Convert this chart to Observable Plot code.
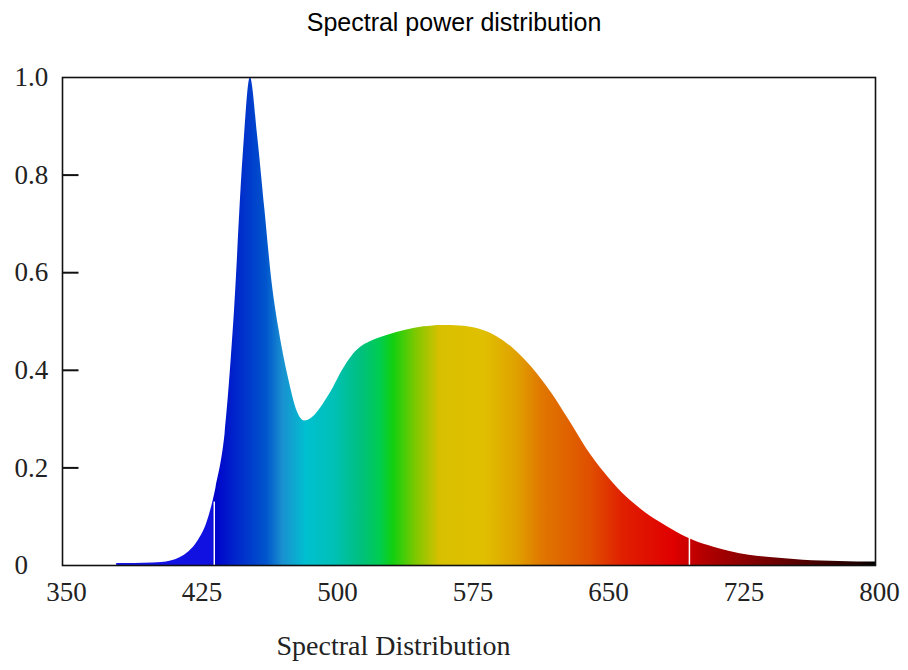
<!DOCTYPE html>
<html><head><meta charset="utf-8">
<script src="https://cdn.jsdelivr.net/npm/d3@7"></script>
<script src="https://cdn.jsdelivr.net/npm/@observablehq/plot@0.6"></script>
<style>
body{margin:0;background:#fff;}
#title{width:908px;height:44px;box-sizing:border-box;padding-top:7px;font:25px/30px "Liberation Sans",Arial,sans-serif;text-align:center;color:#000;}
#chart svg{display:block;}
</style></head><body>
<div id="title"></div>
<div id="chart"></div>
<script>
const titleText = "Spectral power distribution";
const xLabel = "Spectral Distribution";

const wavelengths = [380,390,400,405,410,415,420,425,430,435,440,445,450,454,458,462,466,470,475,480,484,488,492,496,500,505,510,515,520,530,540,550,560,570,580,590,600,610,620,630,640,650,660,670,680,690,700,710,720,730,740,750,760,770,780,790,800];
const power = [0.004,0.004,0.005,0.006,0.009,0.016,0.028,0.05,0.088,0.16,0.27,0.51,0.84,1.0,0.88,0.73,0.58,0.48,0.385,0.315,0.296,0.302,0.318,0.34,0.365,0.40,0.428,0.447,0.458,0.472,0.482,0.489,0.492,0.491,0.485,0.47,0.443,0.405,0.357,0.30,0.24,0.19,0.148,0.116,0.09,0.068,0.05,0.038,0.028,0.021,0.017,0.014,0.011,0.009,0.008,0.007,0.007];

const xDomain = [350, 800];
const xTicks = [350,425,500,575,650,725,800];
const yTicks = [0,0.2,0.4,0.6,0.8,1.0];
const yInnerTicks = [0.2,0.4,0.6,0.8];

const stopWavelengths = [380,433,434,445,463,472,485,500,515,526,533,546,559,583,602,615,642,660,688,707,725,762,790,800];
const stopColors = ["#1515e6","#1010e0","#0000cc","#0022cc","#0055cc","#1a90d0","#00c0d0","#00c0b8","#00c080","#00cc50","#10d010","#80c800","#d8c000","#e0c000","#e0a000","#e07800","#e05000","#e02000","#e00000","#b00000","#900000","#500000","#200000","#000000"];

const gapWavelengths = [434, 697];
const gapHeights = [0.13, 0.056];

document.getElementById("title").textContent = titleText;

const data = wavelengths.map((w, i) => ({w, p: power[i]}));
const gaps = gapWavelengths.map((w, i) => ({w, h: gapHeights[i]}));
const stops = stopWavelengths.map((w, i) => ({w, c: stopColors[i]}));
const innerTicks = yInnerTicks.map(v => ({v}));

const frameWidth = 908 - 62 - 33;
const innerTickLength = 16; // pixels
const tickSpan = innerTickLength * (xDomain[1] - xDomain[0]) / frameWidth;

const chart = Plot.plot({
  width: 908,
  height: 626,
  marginTop: 33,
  marginBottom: 105,
  marginLeft: 62,
  marginRight: 33,
  style: {fontFamily: '"Liberation Serif","Times New Roman",serif', fontSize: "27px", color: "#222", background: "#fff", overflow: "visible"},
  x: {domain: xDomain},
  y: {domain: [0, 1]},
  marks: [
    Plot.areaY(data, {x: "w", y: "p", fill: "url(#spectrum)", curve: "monotone-x"}),
    Plot.ruleX(gaps, {x: "w", y1: 0, y2: "h", stroke: "white", strokeWidth: 1.5}),
    Plot.frame({stroke: "#111", strokeWidth: 1.6}),
    Plot.link(innerTicks, {x1: () => xDomain[0], x2: () => xDomain[0] + tickSpan, y1: "v", y2: "v", stroke: "#111", strokeWidth: 2}),
    Plot.axisY(yTicks, {tickSize: 0, tickPadding: 0, textAnchor: "start", dx: -48, fontSize: 27, fill: "#222",
      tickFormat: d => d === 0 ? "0" : d.toFixed(1), label: null}),
    Plot.axisX(xTicks, {tickSize: 0, tickPadding: 16, dx: 4, fontSize: 27, fill: "#222", tickFormat: d => String(d), label: null}),
    Plot.text([xLabel], {text: d => d, frameAnchor: "bottom", dx: -75.5, dy: 89, fontSize: 28, fill: "#222"})
  ]
});

const xs = chart.scale("x");
const w0 = stopWavelengths[0], w1 = stopWavelengths[stopWavelengths.length - 1];
const grad = d3.select(chart).insert("defs", ":first-child")
  .append("linearGradient")
  .attr("id", "spectrum")
  .attr("gradientUnits", "userSpaceOnUse")
  .attr("x1", xs.apply(w0)).attr("x2", xs.apply(w1))
  .attr("y1", 0).attr("y2", 0);
grad.selectAll("stop").data(stops).join("stop")
  .attr("offset", d => (d.w - w0) / (w1 - w0))
  .attr("stop-color", d => d.c);

document.getElementById("chart").appendChild(chart);
</script>
</body></html>
